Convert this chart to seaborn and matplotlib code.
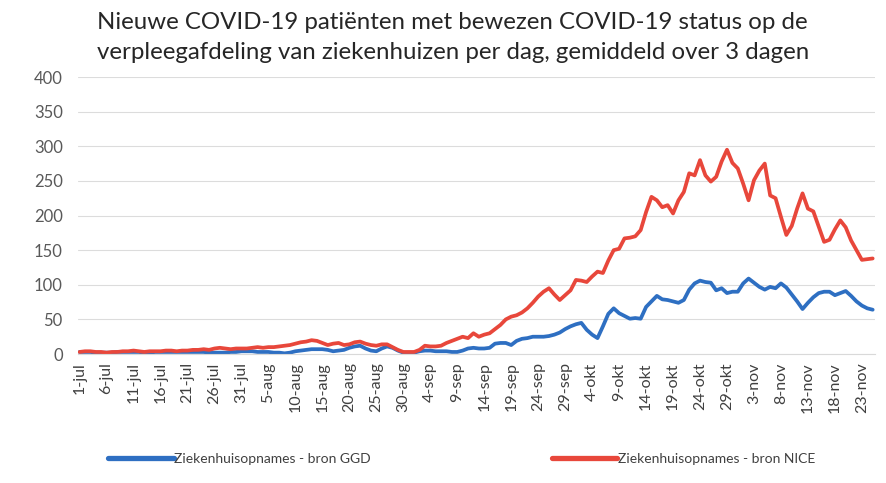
import numpy as np
import pandas as pd
import matplotlib
matplotlib.use("Agg")
import matplotlib.pyplot as plt
import seaborn as sns

# dagelijkse waarden, 1-jul t/m 25-nov
ggd_jul = [3, 3, 3, 2, 2, 2, 2, 3, 3, 3, 3, 3, 2, 2, 3, 3, 3, 3, 3, 3, 3, 3, 3, 3, 2, 2, 2, 2, 3, 3, 4]
ggd_aug = [4, 4, 3, 3, 3, 2, 2, 1, 2, 4, 5, 6, 7, 7, 7, 6, 4, 5, 6, 9, 11, 12, 8, 5, 4, 8, 11, 9, 5, 2, 1]
ggd_sep = [2, 4, 5, 5, 4, 4, 4, 3, 3, 5, 8, 9, 8, 8, 9, 15, 16, 16, 13, 19, 22, 23, 25, 25, 25, 26, 28, 31, 36, 40]
ggd_okt = [43, 45, 35, 28, 23, 40, 58, 66, 59, 55, 51, 52, 51, 68, 76, 84, 79, 78, 76, 74, 78, 93, 102, 106, 104,
           103, 92, 95, 88, 90, 90]
ggd_nov = [102, 109, 103, 97, 93, 97, 95, 102, 96, 86, 76, 65, 74, 82, 88, 90, 90, 85, 88, 91, 84, 76, 70, 66, 64]

nice_jul = [3, 4, 4, 3, 3, 2, 3, 3, 4, 4, 5, 4, 3, 4, 4, 4, 5, 5, 4, 5, 5, 6, 6, 7, 6, 8, 9, 8, 7, 8, 8]
nice_aug = [8, 9, 10, 9, 10, 10, 11, 12, 13, 15, 17, 18, 20, 19, 16, 13, 15, 16, 13, 14, 17, 18, 15, 13, 12, 14,
            14, 10, 6, 3, 3]
nice_sep = [3, 6, 12, 11, 11, 12, 16, 19, 22, 25, 23, 30, 25, 28, 30, 36, 42, 50, 54, 56, 60, 66, 74, 83, 90, 95,
            86, 78, 85, 92]
nice_okt = [107, 106, 104, 112, 119, 117, 135, 150, 152, 167, 168, 170, 179, 205, 227, 222, 212, 215, 203, 222,
            234, 261, 258, 280, 258, 249, 256, 278, 295, 276, 268]
nice_nov = [246, 222, 251, 265, 275, 229, 225, 198, 172, 185, 210, 232, 210, 206, 184, 162, 165, 180, 193, 183,
            164, 150, 136, 137, 138]

ggd = ggd_jul + ggd_aug + ggd_sep + ggd_okt + ggd_nov
nice = nice_jul + nice_aug + nice_sep + nice_okt + nice_nov

months = ["jul"] * 31 + ["aug"] * 31 + ["sep"] * 30 + ["okt"] * 31 + ["nov"] * 25
days = list(range(1, 32)) + list(range(1, 32)) + list(range(1, 31)) + list(range(1, 32)) + list(range(1, 26))
date_labels = [f"{d}-{m}" for d, m in zip(days, months)]

label_ggd = "Ziekenhuisopnames - bron GGD"
label_nice = "Ziekenhuisopnames - bron NICE"
kleur_ggd = "#2e6fc2"
kleur_nice = "#e8473b"

df = pd.DataFrame({
    "idx": list(range(len(ggd))) * 2,
    "waarde": ggd + nice,
    "bron": [label_ggd] * len(ggd) + [label_nice] * len(nice),
})

sns.set_style("white")
plt.rcParams['font.family'] = ['Lato', 'DejaVu Sans']

fig = plt.figure(figsize=(8.86, 4.83), dpi=100)
ax = fig.add_axes([0.088, 0.267, 0.9, 0.5735])

sns.lineplot(data=df, x="idx", y="waarde", hue="bron",
             palette={label_ggd: kleur_ggd, label_nice: kleur_nice},
             linewidth=2.7, ax=ax, legend=False)

ax.set_ylim(0, 400)
ax.set_xlim(-0.3, 147.5)
ax.set_yticks(range(0, 401, 50))
ax.set_yticklabels([str(v) for v in range(0, 401, 50)], color="#595959", fontsize=12)
ticks = list(range(0, len(ggd), 5))
ax.set_xticks(ticks)
ax.set_xticklabels([date_labels[i] for i in ticks], rotation=90, color="#404040", fontsize=11.5)
ax.tick_params(axis="y", length=0, pad=11)
ax.tick_params(axis="x", length=0, pad=6)
ax.grid(axis="y", color="#dcdcdc", linewidth=0.8)
ax.set_xlabel("")
ax.set_ylabel("")
for s in ["top", "right", "left"]:
    ax.spines[s].set_visible(False)
ax.spines["bottom"].set_color("#d9d9d9")

fig.text(0.109, 0.975, "Nieuwe COVID-19 patiënten met bewezen COVID-19 status op de\n"
         "verpleegafdeling van ziekenhuizen per dag, gemiddeld over 3 dagen",
         ha="left", va="top", fontsize=17.3, color="#262626", linespacing=1.55)

handles = [plt.Line2D([], [], color=kleur_ggd, linewidth=3.8),
           plt.Line2D([], [], color=kleur_nice, linewidth=3.8)]
fig.legend(handles, [label_ggd, label_nice], loc="center", bbox_to_anchor=(0.521, 0.05),
           ncol=2, frameon=False, fontsize=10, handlelength=4.7, handletextpad=0.05,
           columnspacing=13, labelcolor="#404040")

fig.savefig("out.png", dpi=100)
